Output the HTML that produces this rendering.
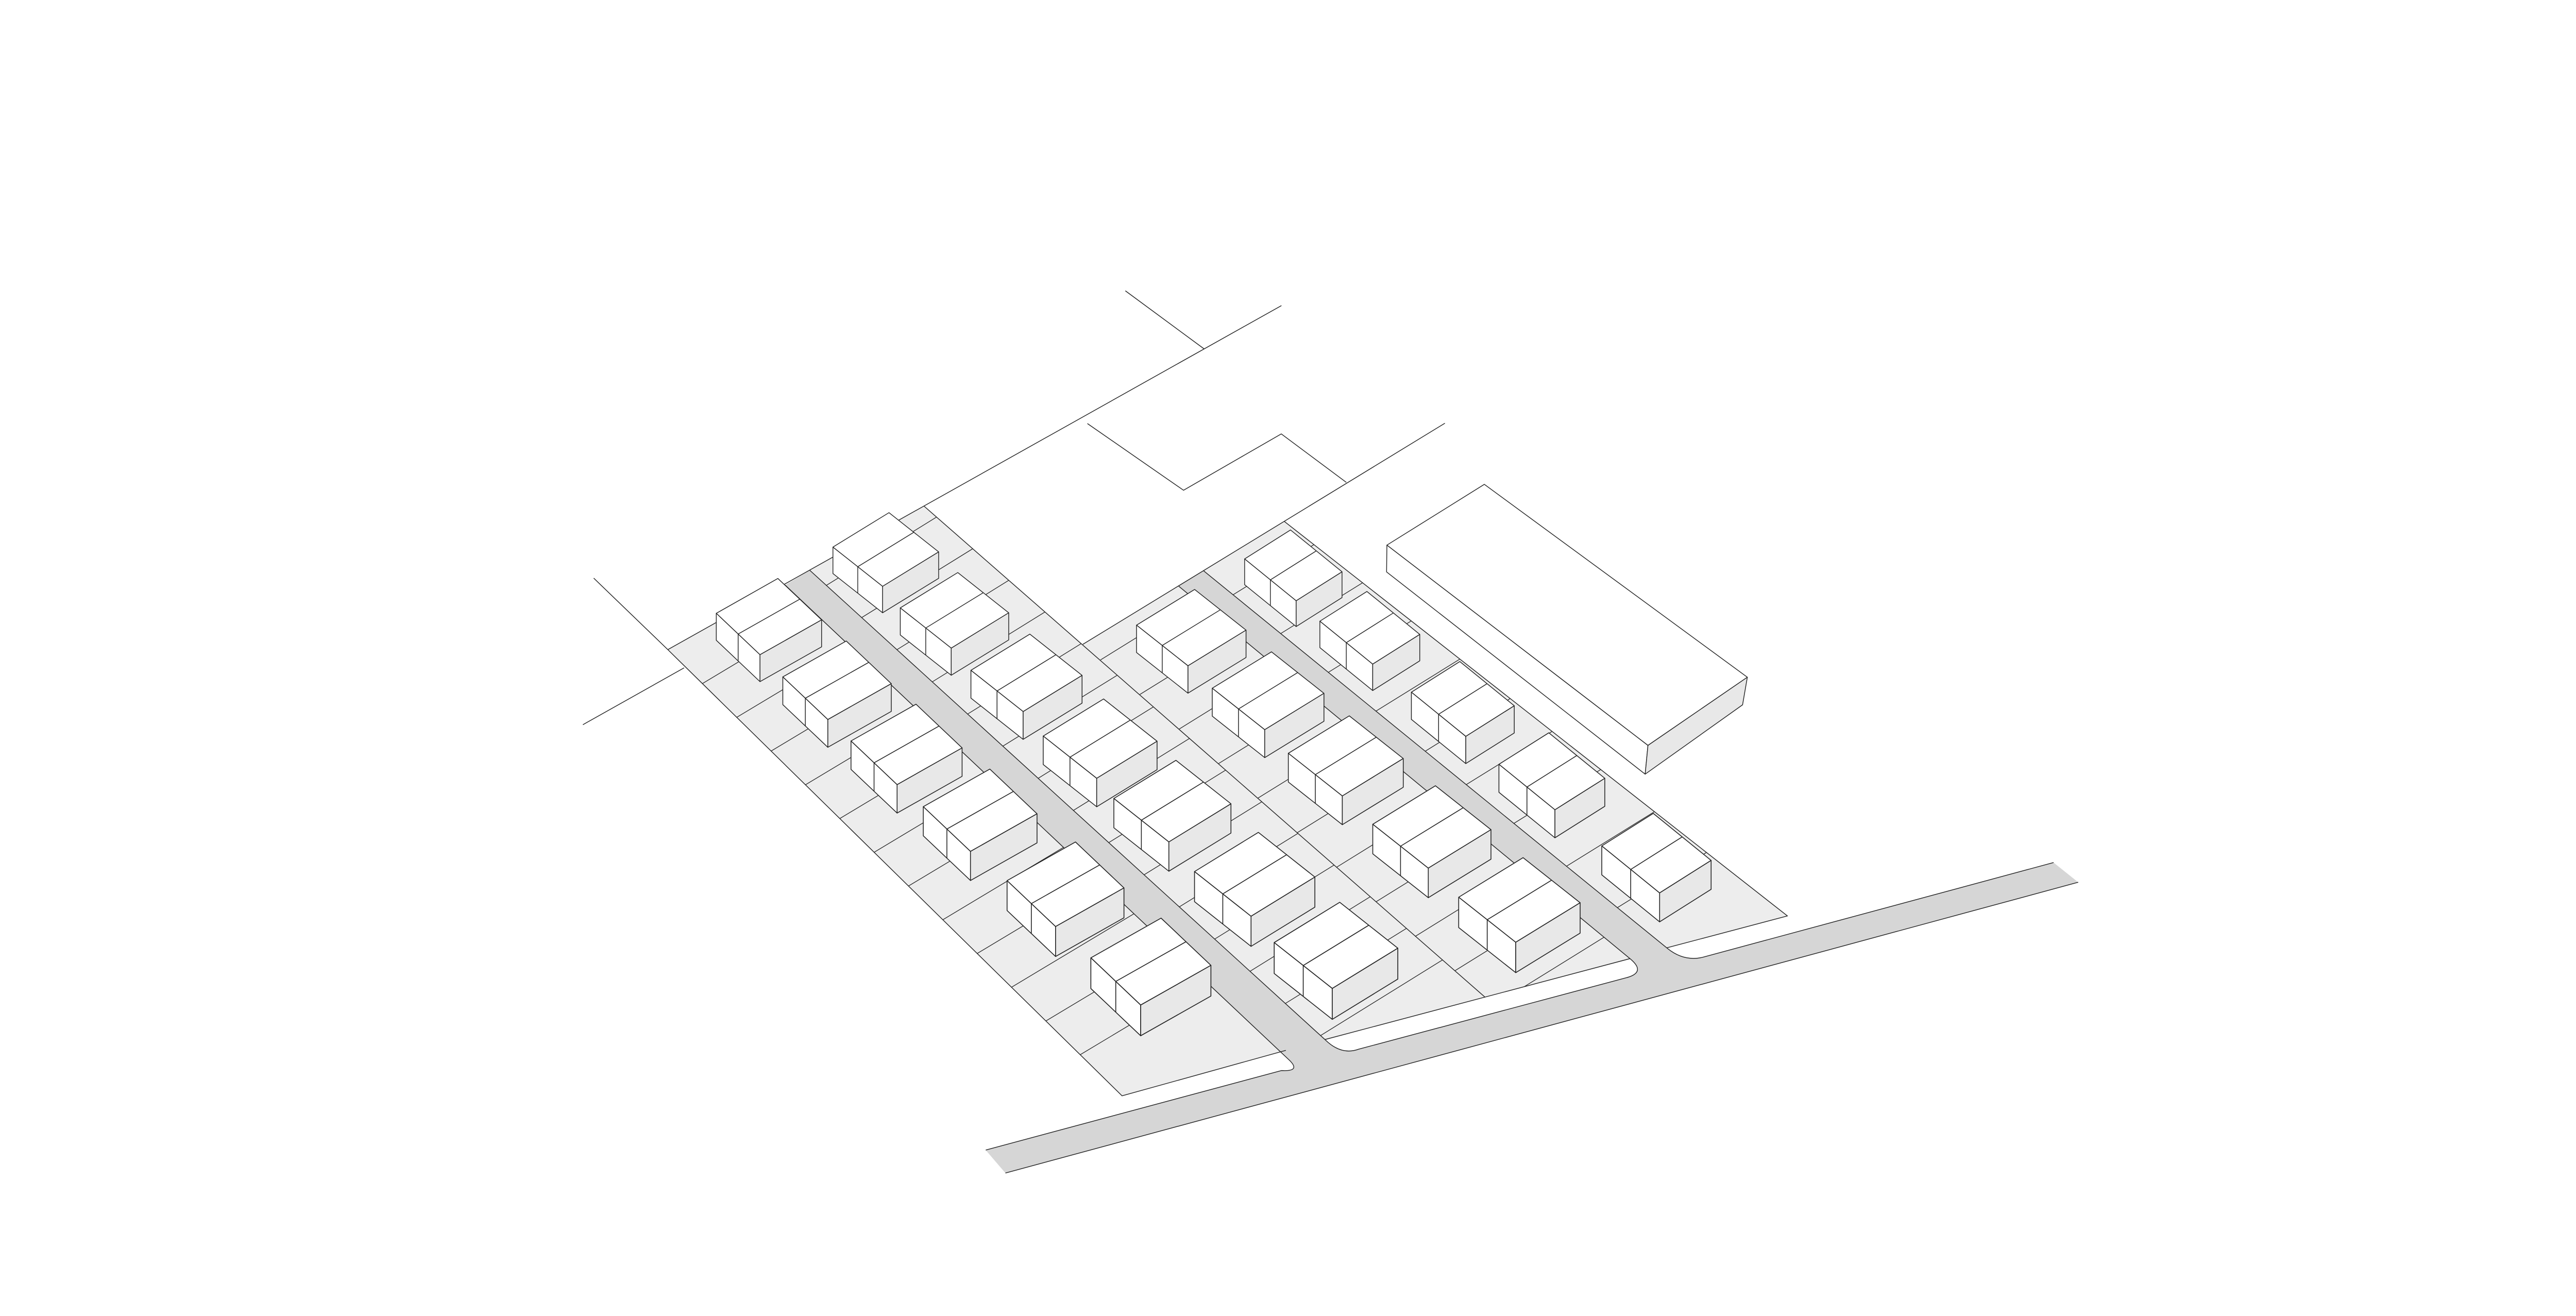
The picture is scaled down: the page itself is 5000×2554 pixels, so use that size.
<!DOCTYPE html>
<html><head><meta charset="utf-8"><style>
html,body{margin:0;padding:0;background:#fff;}
svg{display:block;}
</style></head><body>
<svg width="5000" height="2554" viewBox="0 0 1568 801" preserveAspectRatio="none" xmlns="http://www.w3.org/2000/svg">
<defs>
<clipPath id="cLB"><polygon points="406.5,395.4 477.9,356.1 782.7,639.3 683,667"/></clipPath>
<clipPath id="cML"><polygon points="492.9,347.1 562.5,308.1 904,607 806.6,632.7"/></clipPath>
<clipPath id="cMR"><polygon points="659.1,392.2 717.5,356.8 992.1,583.5 904,607"/></clipPath>
<clipPath id="cRB"><polygon points="732.6,347.4 781.8,317.4 1088,557.5 1014.6,576.9"/></clipPath>
<g id="h1" stroke="#222" stroke-width="0.45" stroke-linejoin="round">
<polygon points="0,0 37.5,-21.2 64.1,4 26.6,25.2" fill="#fff"/>
<polygon points="0,0 26.6,25.2 26.6,41.6 0,16.4" fill="#fff"/>
<polygon points="26.6,25.2 64.1,4 64.1,20.4 26.6,41.6" fill="#e8e8e8"/>
<path d="M13.3,12.6 L50.8,-8.6 M13.3,12.6 L13.3,29" fill="none"/>
</g>
<g id="h2" stroke="#222" stroke-width="0.45" stroke-linejoin="round">
<polygon points="0,0 35,-21.5 66,3 31,24.5" fill="#fff"/>
<polygon points="0,0 31,24.5 31,41 0,16.5" fill="#fff"/>
<polygon points="31,24.5 66,3 66,19.5 31,41" fill="#e8e8e8"/>
<path d="M15.5,12.25 L50.5,-9.25 M15.5,12.25 L15.5,28.75" fill="none"/>
</g>
<g id="h4" stroke="#222" stroke-width="0.45" stroke-linejoin="round">
<polygon points="0,0 28.5,-18 60.5,8 32,26" fill="#fff"/>
<polygon points="0,0 32,26 32,42 0,16" fill="#fff"/>
<polygon points="32,26 60.5,8 60.5,24 32,42" fill="#e8e8e8"/>
<path d="M16,13 L44.5,-5 M16,13 L16,29" fill="none"/>
</g>
</defs>

<g fill="#ededed" stroke="none">
<polygon points="406.5,395.4 477.9,356.1 782.7,639.3 683,667"/>
<polygon points="492.9,347.1 562.5,308.1 659.1,392.2 717.5,356.8 992.1,583.5 806.6,632.7"/>
<polygon points="732.6,347.4 781.8,317.4 1088,557.5 1014.6,576.9"/>
</g>

<g stroke="#222" stroke-width="0.4" fill="none">
<g clip-path="url(#cLB)">
<path d="M422.5,419.1 l200,-120 M443.3,439.7 l200,-120 M464.1,460.3 l200,-120 M484.9,480.9 l200,-120 M505.7,501.5 l200,-120 M526.5,522.1 l200,-120 M547.3,542.7 l200,-120 M568.1,563.3 l200,-120 M588.9,583.9 l200,-120 M609.7,604.5 l200,-120 M630.5,625.1 l200,-120 M651.3,645.7 l200,-120"/>
</g>
<g clip-path="url(#cML)">
<path d="M498,359.4 l200,-124 M519.5,379 l200,-124 M541,398.5 l200,-124 M562.5,418.1 l200,-124 M584,437.7 l200,-124 M605.5,457.2 l200,-124 M627,476.8 l200,-124 M648.5,496.3 l200,-124 M670,515.9 l200,-124 M691.5,535.5 l200,-124 M713,555 l200,-124 M734.5,574.6 l200,-124 M756,594.2 l200,-124 M777.5,613.8 l200,-124 M799,633.3 l200,-124"/>
</g>
<g clip-path="url(#cMR)">
<path d="M665,404.7 l200,-124 M689,425.7 l200,-124 M713,446.7 l200,-124 M737,467.7 l200,-124 M761,488.7 l200,-124 M785,509.7 l200,-124 M809,530.7 l200,-124 M833,551.7 l200,-124 M857,572.7 l200,-124 M881,593.7 l200,-124 M905,614.7 l200,-124"/>
</g>
<g clip-path="url(#cRB)">
<path d="M745.6,365.1 l200,-124 M774.6,388.7 l200,-124 M803.6,412.3 l200,-124 M832.6,435.9 l200,-124 M862.6,460.3 l200,-124 M887.6,480.6 l200,-124 M916.6,504.2 l200,-124 M948.6,530.3 l200,-124 M979.6,555.5 l200,-124"/>
</g>
</g>

<path d="M600,700 L780,651.6 Q792.4,652.3 784.4,644.9 L477.9,356.1 L492.9,347.1 L807,633.2 Q816.6,642.4 827,638.6 L990,595.1 Q1002.2,591.8 992.3,583.6 L717.5,356.8 L732.6,347.4 L1015,577.3 Q1025.3,585.6 1037,582.5 L1250,525 L1265,537 L612,714 Z" fill="#d6d6d6" stroke="none"/>
<g stroke="#222" stroke-width="0.45" fill="none" stroke-linejoin="round">
<path d="M600,700 L780,651.6 Q792.4,652.3 784.4,644.9 L477.9,356.1"/>
<path d="M492.9,347.1 L807,633.2 Q816.6,642.4 827,638.6 L990,595.1 Q1002.2,591.8 992.3,583.6 L717.5,356.8"/>
<path d="M732.6,347.4 L1015,577.3 Q1025.3,585.6 1037,582.5 L1250,525"/>
<path d="M1265,537 L612,714"/>
<path d="M361.4,351.9 L406.5,395.4 L683,667 L782.7,639.3"/>
<path d="M806.6,632.7 L992.1,583.5"/>
<path d="M562.5,308.1 L904,607"/>
<path d="M781.8,317.4 L1088,557.5 L1014.6,576.9"/>
<path d="M406.5,395.4 L780,186"/>
<path d="M354.8,441.1 L416.4,406.5"/>
<path d="M685,177 L733,212.4"/>
<path d="M661.9,257.8 L720.4,298.4 L779.9,264.1 L819.5,293.6"/>
<path d="M659.1,392.2 L879.5,257.6"/>
</g>

<use href="#h2" transform="translate(507,333) scale(0.975)"/>
<use href="#h4" transform="translate(757.6,340.2) scale(0.98)"/>
<use href="#h2" transform="translate(548,370) scale(1)"/>
<use href="#h1" transform="translate(436,373.3) scale(1)"/>
<use href="#h4" transform="translate(803.4,378.1) scale(1.005)"/>
<use href="#h2" transform="translate(691.8,380.5) scale(1.01)"/>
<use href="#h2" transform="translate(591,408) scale(1.025)"/>
<use href="#h1" transform="translate(476.5,412) scale(1.03)"/>
<use href="#h2" transform="translate(737.9,418.9) scale(1.03)"/>
<use href="#h4" transform="translate(859.1,421.3) scale(1.035)"/>
<use href="#h2" transform="translate(635,448) scale(1.05)"/>
<use href="#h1" transform="translate(518,451) scale(1.055)"/>
<use href="#h2" transform="translate(784.2,458.5) scale(1.06)"/>
<use href="#h4" transform="translate(912.4,465.2) scale(1.065)"/>
<use href="#h2" transform="translate(678,486) scale(1.08)"/>
<use href="#h1" transform="translate(562,491) scale(1.08)"/>
<use href="#h2" transform="translate(835.6,501.7) scale(1.09)"/>
<use href="#h4" transform="translate(975,514.9) scale(1.1)"/>
<use href="#h2" transform="translate(727.1,530.5) scale(1.11)"/>
<use href="#h1" transform="translate(613,536) scale(1.11)"/>
<use href="#h2" transform="translate(887.9,546.1) scale(1.12)"/>
<use href="#h2" transform="translate(775.6,573.7) scale(1.14)"/>
<use href="#h1" transform="translate(664,583) scale(1.14)"/>

<g stroke="#222" stroke-width="0.45" stroke-linejoin="round">
<polygon points="844.2,331.8 903.5,294.8 1063.6,412.2 1003.1,453.7" fill="#fff"/>
<polygon points="844.2,331.8 1003.1,453.7 1001.4,471.2 844,348.1" fill="#fff"/>
<polygon points="1003.1,453.7 1063.6,412.2 1060.7,429 1001.4,471.2" fill="#e8e8e8"/>
</g>
</svg>
</body></html>
